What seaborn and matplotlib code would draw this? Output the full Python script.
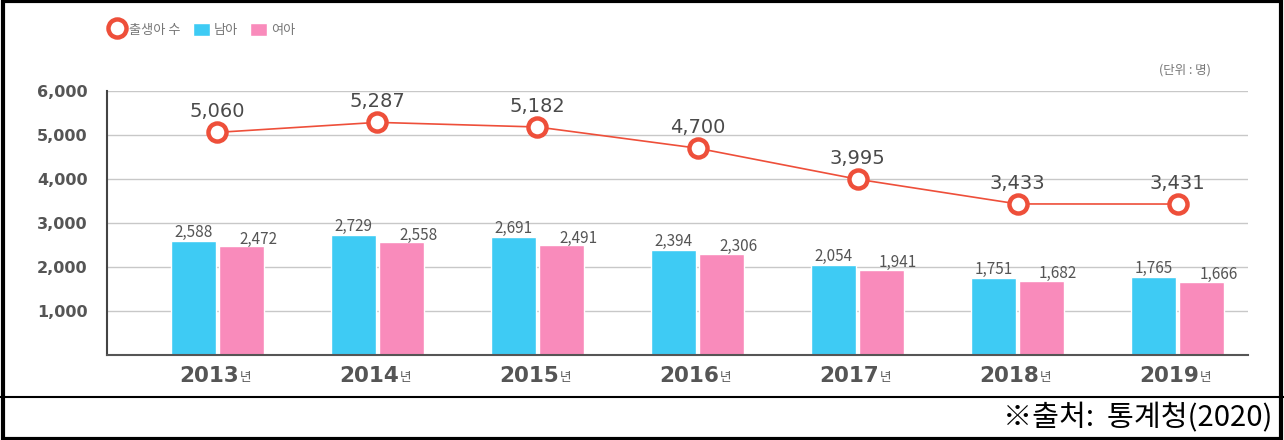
import matplotlib
matplotlib.use("Agg")
import matplotlib.pyplot as plt
from matplotlib.lines import Line2D
from matplotlib.patches import Patch, Rectangle
import pandas as pd
import seaborn as sns

years = ["2013", "2014", "2015", "2016", "2017", "2018", "2019"]
total = [5060, 5287, 5182, 4700, 3995, 3433, 3431]
boys = [2588, 2729, 2691, 2394, 2054, 1751, 1765]
girls = [2472, 2558, 2491, 2306, 1941, 1682, 1666]
yticks = [1000, 2000, 3000, 4000, 5000, 6000]

BLUE = "#3ecbf4"
PINK = "#f98bbb"
RED = "#ee4f3a"
TXT = "#555555"
NUM = ["DejaVu Sans", "Noto Sans CJK KR"]

sns.set_theme(style="white")
plt.rcParams["font.family"] = ["Noto Sans CJK KR", "DejaVu Sans"]


def main():
    df = pd.DataFrame({"year": years * 2,
                       "count": boys + girls,
                       "sex": ["남아"] * len(years) + ["여아"] * len(years)})
    df_tot = pd.DataFrame({"year": years, "total": total})

    fig = plt.figure(figsize=(12.84, 4.4), dpi=100)
    ax = fig.add_axes([107 / 1284, 85 / 440, (1248 - 107) / 1284, (355 - 91) / 440])

    sns.barplot(data=df, x="year", y="count", hue="sex", order=years,
                palette=[BLUE, PINK], width=0.6, gap=0.06, saturation=1,
                legend=False, ax=ax, zorder=2)
    sns.pointplot(data=df_tot, x="year", y="total", order=years, color=RED,
                  markers="o", markersize=13, markerfacecolor="white",
                  markeredgewidth=3.2, linewidth=1.2, ax=ax, zorder=3)

    ax.set_xlim(-0.69, 6.44)
    ax.set_ylim(0, 6000)
    ax.set_yticks(yticks)
    ax.set_yticklabels([f"{v:,}" for v in yticks], color=TXT, fontweight="bold",
                       fontsize=11.5, family=NUM)
    ax.set_xticks(range(len(years)))
    ax.set_xticklabels([])
    ax.set_xlabel("")
    ax.set_ylabel("")
    ax.grid(axis="y", color="#c8c8c8", linewidth=1, zorder=0)
    ax.set_axisbelow(True)
    ax.tick_params(axis="y", direction="inout", length=24, width=1.5, color="#444444", pad=2)
    ax.tick_params(axis="x", length=0)
    for side in ["top", "right"]:
        ax.spines[side].set_visible(False)
    ax.spines["left"].set_color("#444444")
    ax.spines["left"].set_linewidth(1.5)
    ax.spines["bottom"].set_color("#555555")
    ax.spines["bottom"].set_linewidth(1.5)

    # value labels
    for i, v in enumerate(total):
        ax.annotate(f"{v:,}", (i, v), xytext=(0, 8), textcoords="offset points",
                    ha="center", va="bottom", fontsize=14, color="#4a4a4a", family=NUM)
    for i, (b, g) in enumerate(zip(boys, girls)):
        ax.annotate(f"{b:,}", (i - 0.15, b), xytext=(0, 0), textcoords="offset points",
                    ha="center", va="bottom", fontsize=11, color="#555555", fontweight="light")
        ax.annotate(f"{g:,}", (i + 0.15, g), xytext=(12, -1), textcoords="offset points",
                    ha="center", va="bottom", fontsize=11, color="#555555", fontweight="light")

    # year labels
    for i, y in enumerate(years):
        t = ax.annotate(y, (i, 0), xytext=(-6, -8), textcoords="offset points",
                        xycoords=("data", "axes fraction"), ha="center", va="top",
                        fontsize=15.5, fontweight="bold", color=TXT, family=NUM)
        ax.annotate("년", xy=(1, 0.12), xycoords=t, xytext=(0.5, 0), textcoords="offset points",
                    ha="left", va="bottom", fontsize=9, color=TXT)

    handles = [Line2D([], [], marker="o", linestyle="none", markersize=13,
                      markerfacecolor="white", markeredgecolor=RED, markeredgewidth=3.2),
               Patch(facecolor=BLUE), Patch(facecolor=PINK)]
    fig.legend(handles, ["출생아 수", "남아", "여아"], loc="center left",
               bbox_to_anchor=(0.075, 0.932), ncol=3, frameon=False, fontsize=9.5,
               labelcolor="#777777", handlelength=1.3, handleheight=1.2,
               handletextpad=0.3, columnspacing=0.9)

    fig.text(1185 / 1284, 1 - 70 / 440, "(단위 : 명)", ha="center", va="center",
             fontsize=9, color="#777777")

    # frame and source row
    fig.patches.append(Rectangle((0.002, 0.003), 0.996, 0.994, transform=fig.transFigure,
                                 fill=False, edgecolor="black", linewidth=3))
    fig.add_artist(Line2D([0, 1], [1 - 397 / 440] * 2, transform=fig.transFigure,
                          color="black", linewidth=1.5))
    fig.text(1272 / 1284, 1 - 418 / 440, "※출처:  통계청(2020)", ha="right", va="center",
             fontsize=21, color="black")

    fig.savefig("out.png", dpi=100)


if "__main__" == __name__:
    main()
